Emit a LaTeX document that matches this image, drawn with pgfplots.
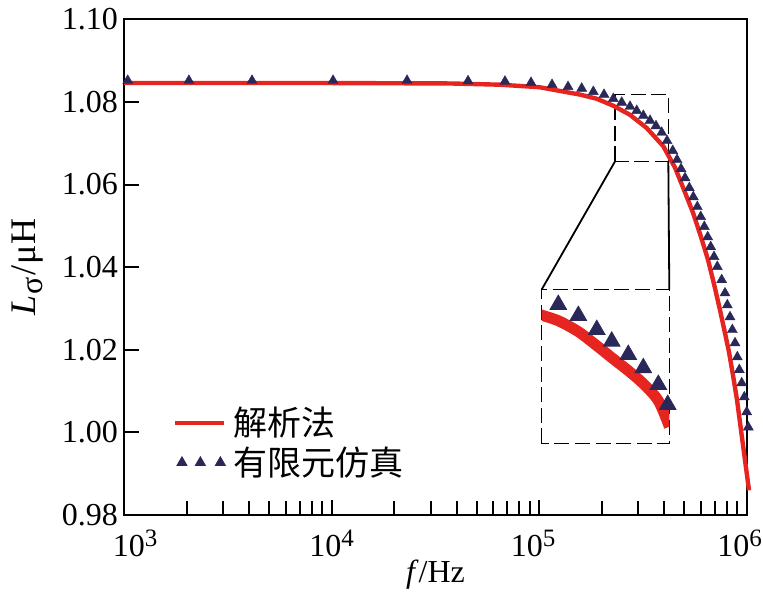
\documentclass[border=0pt]{standalone}
\usepackage{fontspec}
\setmainfont{Liberation Serif}
\newfontfamily\cjk{Noto Sans CJK SC}
\usepackage{pgfplots}
\usepackage{pgfplotstable}
\pgfplotsset{compat=1.18}
\definecolor{cred}{RGB}{230,36,32}
\definecolor{cnavy}{RGB}{42,40,88}
\newcommand\tp[1]{10\raisebox{5bp}{\fontsize{12.5bp}{12.5bp}\selectfont #1}}

\pgfplotstableread{
f v
1000 1.0846
10000 1.0846
37200 1.0845
64700 1.0842
100000 1.0836
157300 1.0818
189300 1.0808
227600 1.0791
273900 1.0769
329700 1.0737
396300 1.0693
451400 1.0641
498700 1.0587
551000 1.0532
602300 1.0473
650800 1.0418
695700 1.0359
743600 1.0296
786000 1.0240
821700 1.0194
859000 1.0138
898000 1.0078
938700 1.0005
981300 0.9932
1026000 0.9859
}\redtab

\pgfplotstableread{
f v
1040 1.0852
2050 1.0852
4130 1.0852
10150 1.0852
23070 1.0852
45400 1.0851
68400 1.0850
91300 1.0847
115300 1.0842
137700 1.0837
160200 1.0833
182300 1.0825
205300 1.0818
227600 1.0808
249800 1.0799
273900 1.0789
295100 1.0779
317600 1.0767
342000 1.0755
365500 1.0742
389400 1.0726
413000 1.0706
440000 1.0682
461500 1.0660
482500 1.0638
504400 1.0616
529000 1.0592
553000 1.0570
578000 1.0546
600200 1.0522
624700 1.0498
648600 1.0473
670600 1.0449
695700 1.0425
721600 1.0401
757700 1.0369
786000 1.0337
806400 1.0308
830900 1.0279
852400 1.0248
878400 1.0216
901100 1.0182
921000 1.0151
946000 1.0119
973600 1.0085
1000000 1.0049
1018000 1.0012
}\femtab

\pgfplotstableread{
f v
225000 1.07910
231900 1.07888
250400 1.07836
274800 1.07733
299300 1.07601
320800 1.07488
346400 1.07366
371400 1.07243
398200 1.07083
419200 1.06838
}\redins

\pgfplotstableread{
f v
250400 1.07987
274800 1.07883
299300 1.07751
320800 1.07641
346400 1.07516
371400 1.07391
398200 1.07234
415900 1.07045
}\femins

\begin{document}
\begin{tikzpicture}
\useasboundingbox (-62.1bp,-38.65bp) rectangle (319.4bp,257.35bp);
\begin{axis}[
  name=main, at={(0bp,0bp)}, anchor=south west,
  scale only axis, width=311.25bp, height=247.6bp,
  xmode=log, xmin=1e3, xmax=1e6, ymin=0.98, ymax=1.10,
  xtick={1e3,1e4,1e5,1e6},
  xticklabels={\hspace{11bp}\tp{3},\tp{4},\hspace{-6bp}\tp{5},\hspace{-7bp}\tp{6}},
  minor xtick={2000,3000,4000,5000,6000,7000,8000,9000,20000,30000,40000,50000,60000,70000,80000,90000,200000,300000,400000,500000,600000,700000,800000,900000},
  ytick={0.98,1.00,1.02,1.04,1.06,1.08,1.10},
  yticklabel style={/pgf/number format/.cd,fixed,fixed zerofill,precision=2,assume math mode=true,/tikz/.cd,inner sep=3bp},
  tick align=inside, tick pos=left,
  major tick length=7.5bp, minor tick length=6.7bp,
  every tick/.style={black, line width=1bp},
  axis line style={line width=1bp},
  tick label style={font=\fontsize{16bp}{19bp}\selectfont},
  xticklabel style={inner sep=2bp, yshift=-5.5bp},
  label style={font=\fontsize{16bp}{19bp}\selectfont},
  xlabel={\textit{f}/Hz},
  ylabel={\textit{L}\hspace{0.5bp}\raisebox{-3.5bp}{\fontsize{16bp}{16bp}\selectfont σ}\hspace{1bp}/\hspace{0.5bp}μH},
  xlabel style={yshift=4bp},
  ylabel style={yshift=3bp, font=\fontsize{18bp}{21bp}\selectfont},
  clip=false,
  legend cell align=left,
  legend style={draw=none, fill=none, at={(axis description cs:0.078,0.226)}, anchor=north west,
    font=\fontsize{17bp}{20bp}\selectfont, row sep=0bp, inner sep=0pt,
    nodes={inner sep=2bp}},
]
\draw[dash pattern=on 7.5bp off 2.8bp, line width=0.75bp] (axis cs:2.319e5,1.0656) rectangle (axis cs:4.19e5,1.0818);
\coordinate (srBL) at (axis cs:2.319e5,1.0656);
\coordinate (srBR) at (axis cs:4.19e5,1.0656);
\addplot[cred, line width=2.2bp,
  legend image code/.code={\draw[cred, line width=2.2bp] (0bp,0bp) -- (24.5bp,0bp); \path[draw=none] (0bp,0bp) -- (27bp,0bp);}]
  table[x=f,y=v] {\redtab};
\addlegendentry{\cjk 解析法}
\addplot[only marks, mark=triangle*, mark size=2.9bp, mark options={fill=cnavy, draw=cnavy, line width=0.2bp},
  legend image code/.code={\path[draw=none] plot[only marks, mark=triangle*, mark size=2.9bp, mark options={fill=cnavy,draw=cnavy}] coordinates {(3.3bp,0bp) (12.5bp,0bp) (22.5bp,0bp)}; \path[draw=none] (0bp,0bp) -- (27bp,0bp);}]
  table[x=f,y=v] {\femtab};
\addlegendentry{\cjk 有限元仿真}
\end{axis}
\begin{axis}[
  name=inset, at={(208.75bp,35.6bp)}, anchor=south west,
  scale only axis, width=63.8bp, height=77bp,
  xmode=log, xmin=2.319e5, xmax=4.19e5, ymin=1.0668, ymax=1.0813,
  xtick=\empty, ytick=\empty,
  axis line style={dash pattern=on 7.5bp off 2.8bp, line width=0.75bp},
  clip marker paths=false,
]
\addplot[cred, line width=5.5bp, smooth] table[x=f,y=v] {\redins};
\addplot[only marks, mark=triangle*, mark size=4.8bp, mark options={fill=cnavy, draw=cnavy}] table[x=f,y=v] {\femins};
\end{axis}
\draw[line width=0.9bp] (srBL) -- (inset.north west);
\draw[line width=0.9bp] (srBR) -- (inset.north east);
\end{tikzpicture}
\end{document}
